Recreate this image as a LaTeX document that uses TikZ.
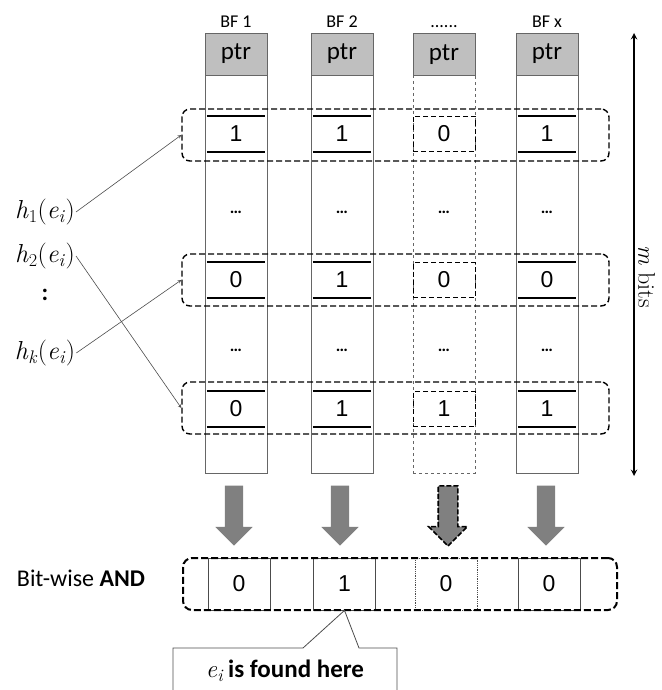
\documentclass[tikz,border=0pt]{standalone}
\usepackage{amsmath}
\usepackage{fontspec}
\usepackage{xcolor}
\usepackage{tikz}
\usetikzlibrary{shapes.arrows, positioning}
\newfontfamily\calibri{Carlito}
\newfontfamily\arial{Liberation Sans}
\newcommand{\ei}{{\rmfamily\mdseries\textit{e}\textsubscript{\textit{i}}}}

\begin{document}
\begin{tikzpicture}[x=1pt, y=-1pt]
    \tikzstyle{column} = [rectangle, draw=black!60, line width=0.9pt, minimum width=62pt, minimum height=440pt, inner sep=0]
    \tikzstyle{dashcolumn} = [column, dashed, line width=0.6pt]
    \tikzstyle{ptr} = [rectangle, draw=black!60, fill=black!25, line width=0.9pt, minimum width=62pt, minimum height=42pt, inner sep=0, font=\calibri\fontsize{25}{25}\selectfont]
    \tikzstyle{bflabel} = [font=\calibri\fontsize{18}{18}\selectfont, inner sep=2pt]
    \tikzstyle{rowbox} = [rectangle, draw=black, dash pattern=on 6pt off 3pt, line width=1.4pt, rounded corners=8pt, minimum width=427pt, minimum height=52pt]
    \tikzstyle{bar} = [draw=black, line width=1.8pt]
    \tikzstyle{bit} = [rectangle, minimum width=58pt, minimum height=35pt, inner sep=0, font=\arial\fontsize{23}{23}\selectfont,
        append after command={(\tikzlastnode.north west) edge[bar] (\tikzlastnode.north east)
                              (\tikzlastnode.south west) edge[bar] (\tikzlastnode.south east)}]
    \tikzstyle{dashbit} = [rectangle, draw=black, dash pattern=on 5pt off 3pt, line width=1pt, minimum width=62pt, minimum height=35pt, inner sep=0, font=\arial\fontsize{23}{23}\selectfont]
    \tikzstyle{dots} = [font=\calibri\bfseries\fontsize{17}{17}\selectfont]
    \tikzstyle{hlabel} = [font=\fontsize{26}{26}\selectfont, inner sep=1pt]
    \tikzstyle{arrow} = [->, >=stealth, draw=black!70, line width=0.6pt]
    \tikzstyle{mbits} = [<->, >=stealth, line width=1.8pt]
    \tikzstyle{down} = [single arrow, rotate=-90, fill=black!50, minimum height=60pt, inner sep=9pt, single arrow head extend=9.5pt, single arrow head indent=0pt]
    \tikzstyle{andbox} = [rectangle, draw=black, dash pattern=on 7pt off 3pt, line width=2pt, rounded corners=9pt, minimum width=434pt, minimum height=52pt]
    \tikzstyle{andcell} = [rectangle, draw=black!70, line width=0.8pt, minimum width=62pt, minimum height=52pt, inner sep=0, font=\arial\fontsize{23}{23}\selectfont]

    \useasboundingbox (0,0) rectangle (661,690);

    % filters
    \node (col1) [column] at (236,253) {};
    \node (col2) [column] at (342,253) {};
    \node (col3) [dashcolumn] at (444,253) {};
    \node (colx) [column] at (547,253) {};
    \node (ptr1) [ptr, below=0pt of col1.north] {ptr};
    \node (ptr2) [ptr, below=0pt of col2.north] {ptr};
    \node (ptr3) [ptr, below=0pt of col3.north] {ptr};
    \node (ptrx) [ptr, below=0pt of colx.north] {ptr};
    \node (bf1) [bflabel, above=3pt of ptr1] {BF 1};
    \node (bf2) [bflabel, above=3pt of ptr2] {BF 2};
    \node (bf3) [bflabel, above=3pt of ptr3] {......};
    \node (bfx) [bflabel, above=3pt of ptrx] {BF x};

    % selected rows
    \node (row1) [rowbox] at (395.5,135) {};
    \node (row2) [rowbox] at (395.5,280) {};
    \node (row3) [rowbox] at (395.5,408) {};

    \node (c11) [bit] at (236,134) {1};
    \node (c12) [bit] at (342,134) {1};
    \node (c13) [dashbit] at (444,134) {0};
    \node (c1x) [bit] at (547,134) {1};
    \node (c21) [bit] at (236,280) {0};
    \node (c22) [bit] at (342,280) {1};
    \node (c23) [dashbit] at (444,280) {0};
    \node (c2x) [bit] at (547,280) {0};
    \node (c31) [bit] at (236,409) {0};
    \node (c32) [bit] at (342,409) {1};
    \node (c33) [dashbit] at (444,409) {1};
    \node (c3x) [bit] at (547,409) {1};

    \node (d11) [dots] at (236,212) {…};
    \node (d12) [dots] at (342,212) {…};
    \node (d13) [dots] at (444,212) {…};
    \node (d1x) [dots] at (547,212) {…};
    \node (d21) [dots] at (236,350) {…};
    \node (d22) [dots] at (342,350) {…};
    \node (d23) [dots] at (444,350) {…};
    \node (d2x) [dots] at (547,350) {…};

    % hash functions
    \node (h1) [hlabel] at (45,212) {\textit{h}\textsubscript{1}(\ei)};
    \node (h2) [hlabel] at (45,256) {\textit{h}\textsubscript{2}(\ei)};
    \node (hdots) [font=\calibri\bfseries\fontsize{24}{24}\selectfont] at (45,295) {:};
    \node (hk) [hlabel] at (45,353) {\textit{h}\textsubscript{\textit{k}}(\ei)};
    \draw [arrow] (h1.east) -- (row1.west);
    \draw [arrow] (h2.east) -- (row3.west);
    \draw [arrow] (hk.east) -- (row2.west);

    \coordinate (mtop) at (634,33);
    \coordinate (mbot) at (634,476);
    \draw [mbits] (mtop) -- node[pos=0.55, rotate=-90, anchor=south, font=\fontsize{24}{24}\selectfont] {\textit{m} bits} (mbot);

    % and
    \node (a1) [down] at (234,511) {};
    \node (a2) [down] at (340,511) {};
    \node (a3) [down, draw=black, dash pattern=on 5pt off 2pt, line width=1.6pt] at (448,511) {};
    \node (ax) [down] at (546,511) {};

    \node (and1) [andcell] at (239,584) {0};
    \node (and2) [andcell] at (344.5,584) {1};
    \node (and3) [andcell, densely dotted] at (446,584) {0};
    \node (andx) [andcell] at (549,584) {0};
    \node (andbox) [andbox] at (400,584) {};
    \node (andlabel) [font=\calibri\fontsize{24}{24}\selectfont] at (81,578) {Bit-wise \textbf{AND}};

    \node (found) [font=\calibri\bfseries\fontsize{25}{25}\selectfont] at (285,671) {\ei\,is found here};
    \draw [draw=black!70, line width=0.8pt] (173,690) |- (303,648) -- (and2.south) -- (359,648) -| (397,690);

\end{tikzpicture}
\end{document}
